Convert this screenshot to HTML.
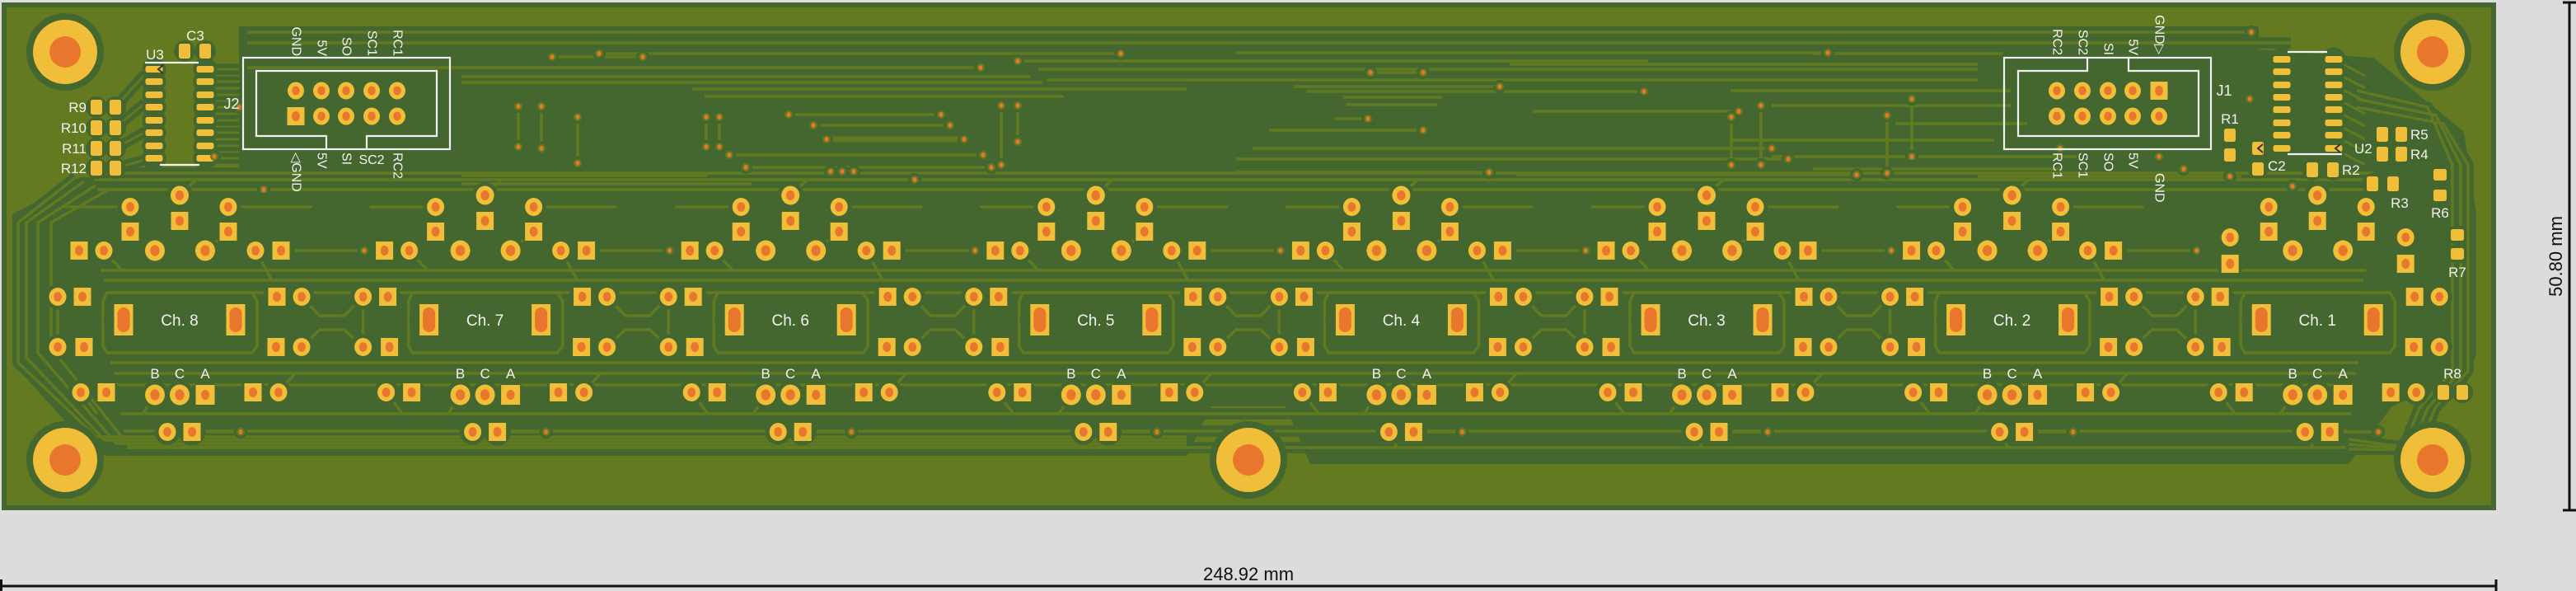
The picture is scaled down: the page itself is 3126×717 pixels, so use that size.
<!DOCTYPE html>
<html><head><meta charset="utf-8"><style>
html,body{margin:0;padding:0;background:#dcdcdc;}
svg{display:block}
.s{fill:#f2f2f2;font-family:"Liberation Sans",sans-serif;}
</style></head><body>
<svg id="b" width="3126" height="717" viewBox="0 0 3126 717" xmlns="http://www.w3.org/2000/svg">
<rect width="3126" height="717" fill="#dcdcdc"/>
<rect x="2" y="3" width="3027" height="616" fill="#44662f"/>
<rect x="8" y="9" width="3015" height="604" fill="#637a20"/>
<path d="M290,32 L2741,32 L2741,60 L2880,70 L2990,160 L3005,260 L3005,430 L2993,466 L2905,490 L2850,563 L1590,563 L1560,493 L1470,493 L1440,553 L130,553 L110,545 L15,440 L15,260 L100,215 L290,215 Z" fill="#44662f"/>
<g id="halo" fill="none" stroke="#44662f" stroke-width="14" stroke-linejoin="round"></g>
<g id="tr" fill="none" stroke="#617a21" stroke-width="3.5" stroke-linejoin="round"></g>
<g id="ph" fill="#44662f"></g>
<g id="pd"></g>
<g id="silk" fill="none" stroke="#f2f2f2" stroke-width="2.2"></g>
<g id="txt"></g>
<line x1="0" y1="711" x2="3029" y2="711" stroke="#111" stroke-width="3"/>
<line x1="1.5" y1="703" x2="1.5" y2="717" stroke="#111" stroke-width="3"/>
<line x1="3029" y1="703" x2="3029" y2="717" stroke="#111" stroke-width="3"/>
<text x="1515" y="704" font-family="Liberation Sans, sans-serif" font-size="22" text-anchor="middle" fill="#111">248.92 mm</text>
<line x1="3118" y1="3" x2="3118" y2="619" stroke="#111" stroke-width="3"/>
<line x1="3110" y1="3" x2="3126" y2="3" stroke="#111" stroke-width="3"/>
<line x1="3110" y1="619" x2="3126" y2="619" stroke="#111" stroke-width="3"/>
<text x="0" y="0" transform="translate(3109,311) rotate(-90)" font-family="Liberation Sans, sans-serif" font-size="22" text-anchor="middle" fill="#111">50.80 mm</text>
</svg>
<script>
var NS="http://www.w3.org/2000/svg";
function el(p,t,a,txt){var e=document.createElementNS(NS,t);for(var k in a)e.setAttribute(k,a[k]);if(txt!==undefined)e.textContent=txt;document.getElementById(p).appendChild(e);return e;}
var Y="#f1be3a",O="#e8762c",OL="#617a21",D="#44662f";
function line(pts,w){var d="M"+pts.map(function(p){return p[0].toFixed(1)+","+p[1].toFixed(1)}).join(" L");
 el("halo","path",{d:d,"stroke-width":(w||3.5)+10});el("tr","path",{d:d,"stroke-width":w||3.5});}
function halo(x,y,r){el("ph","circle",{cx:x,cy:y,r:r});}
function rp(x,y,r){r=r||10.5;halo(x,y,r+5);el("pd","ellipse",{cx:x,cy:y,rx:r,ry:r+0.5,fill:Y});el("pd","ellipse",{cx:x,cy:y,rx:r*0.47,ry:r*0.55,fill:O});}
function sp(x,y,s){s=s||21;halo(x,y,s/2+6);el("pd","rect",{x:x-s/2,y:y-s/2-0.5,width:s,height:s+1,fill:Y});el("pd","ellipse",{cx:x,cy:y,rx:5,ry:6,fill:O});}
function via(x,y){halo(x,y,8);el("pd","circle",{cx:x,cy:y,r:5,fill:OL});el("pd","ellipse",{cx:x,cy:y,rx:2.5,ry:3,fill:O});}
function smd(x,y,w,h){halo(x,y,Math.max(w,h)/2+4);el("pd","rect",{x:x-w/2,y:y-h/2,width:w,height:h,rx:2.5,fill:Y});}
function tx(x,y,s,fs,anc){return el("txt","text",{x:x,y:y,"font-size":fs||17,"text-anchor":anc||"middle","class":"s"},s);}
function vt(x,y,s,fs){return el("txt","text",{x:0,y:0,transform:"translate("+x+","+y+") rotate(90)","font-size":fs||17,"class":"s","dominant-baseline":"central"},s);}
[[79,63],[79,558],[1515,558],[2952,63],[2952,558]].forEach(function(h){halo(h[0],h[1],47);el("pd","circle",{cx:h[0],cy:h[1],r:39,fill:Y});el("pd","circle",{cx:h[0],cy:h[1],r:19,fill:O});});
var H=[[39,300,2732],[52,300,2780],[65,727,1360],[69,670,780],[82,300,1190],[74,1235,2000],[93,560,1250],[84,1260,2400],[100,560,1265],[97,1270,2400],[108,840,1440],[117,855,1290],[139,957,1142],[152,987,1153],[188,885,1193],[203,905,1203],[213,560,858],[223,560,912],
[64,1500,2218],[78,1832,2400],[88,1663,1727],[105,1570,1820],[111,1585,1995],[118,1630,1750],[127,1633,1744],[135,1860,2110],[144,1620,1660],[158,1540,1727],[180,1520,2150],[193,1500,2170],[209,1500,1807],[212,1840,2253],
[65,2200,2430],[110,2100,2440],[128,2150,2440],[150,2300,2460],[170,2100,2420],[190,2150,2520],[205,2200,2500],[214,2400,2720]];
H.forEach(function(h){line([[h[1],h[0]],[h[2],h[0]]]);});
line([[1003,169],[1170,169]],7);
[[1360,65],[727,65],[670,69],[780,69],[1190,82],[1235,74],[957,139],[1142,139],[987,152],[1153,152],[1003,169],[1170,169],[885,188],[1193,188],[905,203],[1203,203],[2732,39],[2218,64],[1727,88],[1663,88],[1820,105],[1995,111],[2110,135],[1660,144],[1727,158],[2150,180],[2170,193],[1807,209],[2253,212]].forEach(function(v){via(v[0],v[1]);});
[[629,129,178],[657,129,180],[701,142,198],[857,142,178],[873,142,178],[1215,128,200],[1235,128,172],[2101,142,200],[2137,128,200],[2290,140,210],[2320,120,190]].forEach(function(v){line([[v[0],v[1]],[v[0],v[2]]]);via(v[0],v[1]);via(v[0],v[2]);});
var BY=[210,218,230,328,340,355,440,453,467,502,523,543];
BY.forEach(function(y,i){line([[110+i*4,y],[2880-i*3,y]]);});
[[22,0],[32,1],[46,2],[62,3]].forEach(function(t){var x=t[0];line([[x+70,215+t[1]*5],[x,270],[x,440-t[1]*6],[x+95,530+t[1]*4],[1440,530+t[1]*4]]);});
[[2976,0],[2986,1],[2995,2]].forEach(function(t){var x=t[0];line([[2860,110+t[1]*10],[x-30,130+t[1]*10],[x,200],[x,450],[x-40,495],[x-60,545],[2850,545-t[1]*6]]);});
for(var k=0;k<8;k++){
 var cx=218+370.6*k;
 line([[cx-93,365],[cx-88,355],[cx+88,355],[cx+94,365],[cx+94,420],[cx+88,428],[cx-88,428],[cx-93,420],[cx-93,365]]);
 if(k<7){
  line([[cx+148,360],[cx+170,383],[cx+200,383],[cx+222,360]]);
  line([[cx+148,421],[cx+170,400],[cx+200,400],[cx+222,421]]);
 }
 line([[cx-148,360],[cx-148,421]]);
 line([[cx-30,479],[cx-45,502]]);line([[cx-120,476],[cx-100,502]]);
 if(k<7)line([[cx+120,476],[cx+140,453]]);
 line([[cx-15,524],[cx-5,543]]);line([[cx+15,524],[cx+74,524]]);
 if(k<7){
  line([[cx-92,304],[cx-70,328]]);line([[cx+92,304],[cx+112,340]]);
  line([[cx+59,251],[cx+160,251]]);line([[cx-60,251],[cx-140,251]]);
  line([[cx,237],[cx+20,218]]);line([[cx+59,281],[cx+31,304]]);
  line([[cx+123,304],[cx+224,304]]);via(cx+224,304);
 }
 if(k<7){
  rp(cx,237,11);sp(cx,268);
  rp(cx-60,251);sp(cx-60,281);rp(cx+59,251);sp(cx+59,281);
  sp(cx-122,304);rp(cx-92,304);rp(cx-30,304,12);rp(cx+31,304,12);rp(cx+92,304);sp(cx+123,304);
 } else {
  rp(cx,237,11);sp(cx,268);rp(cx-59,251);sp(cx-59,281);rp(cx+59,251);sp(cx+59,281);
  rp(cx-30,304,12);rp(cx+31,304,12);
  rp(cx-106,288);sp(cx-106,320);rp(cx+107,288);sp(cx+107,320);
 }
 rp(cx-148,360);sp(cx-118,360);sp(cx+118,360);rp(cx+148,360);
 rp(cx-148,421);sp(cx-116,421);sp(cx+117,421);rp(cx+148,421);
 [cx-68,cx+68].forEach(function(x){halo(x,388,24);el("pd","rect",{x:x-11.5,y:369,width:23,height:38,fill:Y});el("pd","rect",{x:x-7.5,y:373,width:15,height:30,rx:7.5,fill:O});});
 rp(cx-120,476);sp(cx-89,476);rp(cx-30,479,12);rp(cx,479,12);sp(cx+31,479,23);sp(cx+89,476);rp(cx+120,476);
 rp(cx-15,524);sp(cx+15,524);via(cx+74,524);
 tx(cx,395,"Ch. "+(8-k),19);
 tx(cx-30,459,"B",17);tx(cx,459,"C",17);tx(cx+31,459,"A",17);
}
[84,99,115,130,146,161,177,192].forEach(function(y){smd(187,y,21,8);smd(249,y,21,8);line([[249,y],[290,y]],3);});
el("silk","line",{x1:176,y1:76,x2:241,y2:76});el("silk","line",{x1:194,y1:200,x2:242,y2:200});
el("txt","path",{d:"M198,79 L192,84 L198,89",fill:"none",stroke:"#333","stroke-width":2});
smd(224,62,14,18);smd(249,62,14,18);tx(237,49,"C3",17);tx(188,72,"U3",17);
[130,155,180,204].forEach(function(y,i){smd(117,y,14,18);smd(140,y,14,18);line([[140,y],[176,y-40+i*10]],3);tx(105,y+6,"R"+(9+i),17,"end");});
el("silk","rect",{x:295,y:70,width:251,height:111});
el("silk","path",{d:"M396,181 L396,165 L311,165 L311,86 L530,86 L530,165 L445,165 L445,181"});
[359,390,420,451,482].forEach(function(x,i){rp(x,110,10);if(i==0)sp(x,141);else rp(x,141,10);});
tx(281,132,"J2",18);
[["GND",359],["5V",390],["SO",420],["SC1",451],["RC1",482]].forEach(function(a){var t=vt(a[1],0,a[0],16);t.setAttribute("text-anchor","end");t.setAttribute("transform","translate("+a[1]+",68) rotate(90)");});
[["◁GND",359],["5V",390],["SI",420],["RC2",482]].forEach(function(a){vt(a[1],185,a[0],16);});
tx(451,199,"SC2",16);
[[260,190],[290,130],[320,230],[1008,208],[1022,208],[1036,208],[1110,218]].forEach(function(v){via(v[0],v[1]);});
el("silk","rect",{x:2432,y:70,width:251,height:111});
el("silk","path",{d:"M2533,70 L2533,86 L2449,86 L2449,165 L2668,165 L2668,86 L2583,86 L2583,70"});
[2496,2527,2558,2588,2620].forEach(function(x,i){if(i==4)sp(x,110);else rp(x,110,10);rp(x,141,10);});
tx(2699,116,"J1",18);
[["RC2",2496],["SC2",2527],["SI",2558],["5V",2588]].forEach(function(a){var t=vt(a[1],0,a[0],16);t.setAttribute("text-anchor","end");t.setAttribute("transform","translate("+a[1]+",67) rotate(90)");});
var g=vt(2620,0,"GND▷",16);g.setAttribute("text-anchor","end");g.setAttribute("transform","translate(2620,66) rotate(90)");
[["RC1",2496],["SC1",2527],["SO",2558],["5V",2588]].forEach(function(a){vt(a[1],185,a[0],16);});
vt(2620,210,"GND",16);
[72,87,103,118,133,149,164,180].forEach(function(y){smd(2769,y,21,8);smd(2832,y,21,8);line([[2832,y],[2870,y+20]],3);});
el("silk","line",{x1:2776,y1:63,x2:2824,y2:63});el("silk","line",{x1:2776,y1:187,x2:2842,y2:187});
el("txt","path",{d:"M2746,175 L2740,180 L2746,185 M2840,175 L2834,180 L2840,185",fill:"none",stroke:"#333","stroke-width":2});
tx(2857,186,"U2",17,"start");
smd(2706,164,14,16);smd(2706,188,14,16);tx(2706,150,"R1",17);
smd(2740,180,14,16);smd(2740,205,14,16);tx(2752,207,"C2",17,"start");
smd(2806,206,14,18);smd(2831,206,14,18);tx(2842,212,"R2",17,"start");
smd(2891,163,14,18);smd(2914,163,14,18);tx(2925,169,"R5",17,"start");
smd(2891,187,14,18);smd(2914,187,14,18);tx(2925,193,"R4",17,"start");
smd(2879,223,14,18);smd(2904,223,14,18);tx(2912,252,"R3",17);
smd(2961,212,16,14);smd(2961,237,16,14);tx(2961,264,"R6",17);
smd(2982,285,16,14);smd(2982,308,16,14);tx(2982,336,"R7",17);
smd(2965,476,14,18);smd(2988,476,14,18);tx(2976,459,"R8",17);
[[2706,214],[2730,120],[2782,226],[2620,190],[2500,180],[2650,205]].forEach(function(v){via(v[0],v[1]);});
</script>
</body></html>
